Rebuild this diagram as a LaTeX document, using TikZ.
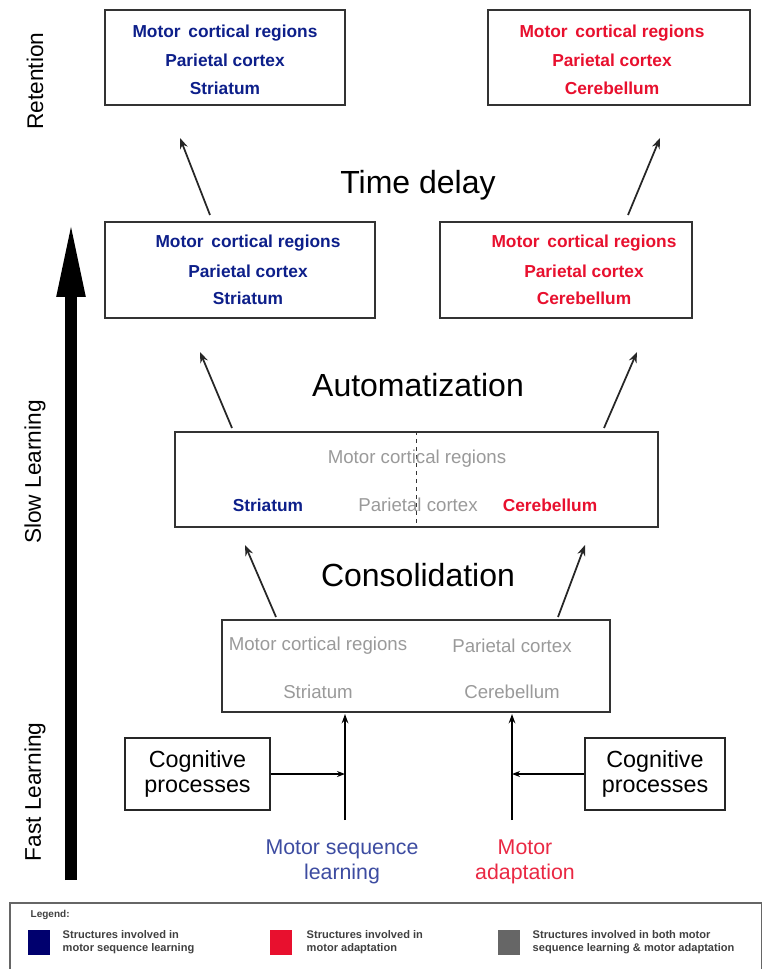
\documentclass[tikz,border=0pt]{standalone}
\usepackage{fontspec}
\setmainfont{Liberation Sans}
\usetikzlibrary{arrows.meta}
\definecolor{seqblue}{HTML}{0D1F8A}
\definecolor{adred}{HTML}{E8102E}
\definecolor{lgray}{HTML}{9A9A9A}
\definecolor{navy}{HTML}{00006E}
\tikzset{
  regionb/.style={draw=black!80, line width=1.2pt, inner sep=0pt},
  btxt/.style={font=\fontsize{13}{15}\selectfont\bfseries, align=center},
  gtxt/.style={font=\fontsize{14}{16}\selectfont, text=lgray},
  stage/.style={font=\fontsize{24}{28}\selectfont},
  side/.style={font=\fontsize{17}{20}\selectfont, rotate=90},
  arr/.style={-{Stealth[length=8pt,width=6pt]}, line width=1.3pt, black!85},
  cog/.style={draw=black!85, line width=1.2pt, font=\fontsize{17.5}{19}\selectfont, align=center, inner sep=0pt},
  lgtxt/.style={font=\fontsize{8.3}{9.5}\selectfont\bfseries, align=left, anchor=west, text=black!75},
}
\begin{document}
\begin{tikzpicture}[x=0.75pt,y=-0.75pt]
\useasboundingbox (0,0) rectangle (762,969);
\fill[white] (0,0) rectangle (762,969);

% side labels
\node[side] (ret) at (35,81) {Retention};
\node[side] (slow) at (35,472) {Slow Learning};
\node[side] (fast) at (35,792) {Fast Learning};
\coordinate (bigS) at (71,880);
\coordinate (bigE) at (71,217);
\draw[line width=9.5pt, -{Triangle[length=60pt,width=19pt]}] (bigS) -- (bigE);

% top boxes
\node[regionb, minimum width=240*0.75pt, minimum height=95*0.75pt] (tl) at (225,57.5) {};
\node[btxt, text=seqblue] at (225,33) {Motor\, cortical regions};
\node[btxt, text=seqblue] at (225,60) {Parietal cortex};
\node[btxt, text=seqblue] at (225,88) {Striatum};

\node[regionb, minimum width=262*0.75pt, minimum height=95*0.75pt] (tr) at (619,57.5) {};
\node[btxt, text=adred] at (612,33) {Motor\, cortical regions};
\node[btxt, text=adred] at (612,60) {Parietal cortex};
\node[btxt, text=adred] at (612,88) {Cerebellum};

\node[stage] (td) at (418,185) {Time delay};

% middle boxes
\node[regionb, minimum width=270*0.75pt, minimum height=96*0.75pt] (ml) at (240,270) {};
\node[btxt, text=seqblue] at (248,243) {Motor\, cortical regions};
\node[btxt, text=seqblue] at (248,271) {Parietal cortex};
\node[btxt, text=seqblue] at (248,298) {Striatum};

\node[regionb, minimum width=252*0.75pt, minimum height=96*0.75pt] (mr) at (566,270) {};
\node[btxt, text=adred] at (584,243) {Motor\, cortical regions};
\node[btxt, text=adred] at (584,271) {Parietal cortex};
\node[btxt, text=adred] at (584,298) {Cerebellum};

\coordinate (a1s) at (210,215); \coordinate (a1e) at (180,138);
\coordinate (a2s) at (628,215); \coordinate (a2e) at (660,138);
\draw[arr] (a1s) -- (a1e);
\draw[arr] (a2s) -- (a2e);

\node[stage] (auto) at (418,385) {Automatization};

% automatization box
\node[regionb, minimum width=483*0.75pt, minimum height=95*0.75pt] (ab) at (416.5,479.5) {};
\draw[dashed, line width=1.2pt, black!80] (ab.north) -- (ab.south);
\node[gtxt] at (417,459) {Motor cortical regions};
\node[btxt, text=seqblue] at (268,505) {Striatum};
\node[gtxt] at (418,505) {Parietal cortex};
\node[btxt, text=adred] at (550,505) {Cerebellum};

\coordinate (b1s) at (232,428); \coordinate (b1e) at (200,352);
\coordinate (b2s) at (604,428); \coordinate (b2e) at (637,352);
\draw[arr] (b1s) -- (b1e);
\draw[arr] (b2s) -- (b2e);

\node[stage] (cons) at (418,575) {Consolidation};

% consolidation box
\node[regionb, minimum width=388*0.75pt, minimum height=92*0.75pt] (cb) at (416,666) {};
\node[gtxt] at (318,646) {Motor cortical regions};
\node[gtxt] at (512,646) {Parietal cortex};
\node[gtxt] at (318,692) {Striatum};
\node[gtxt] at (512,692) {Cerebellum};

\coordinate (c1s) at (276,617); \coordinate (c1e) at (245,545);
\coordinate (c2s) at (558,617); \coordinate (c2e) at (585,545);
\draw[arr] (c1s) -- (c1e);
\draw[arr] (c2s) -- (c2e);

% bottom inputs
\node[cog, minimum width=145*0.75pt, minimum height=72*0.75pt] (cogl) at (197.5,774) {Cognitive\\processes};
\node[cog, minimum width=140*0.75pt, minimum height=72*0.75pt] (cogr) at (655,774) {Cognitive\\processes};

\node[font=\fontsize{16}{19}\selectfont, text=seqblue!80, align=center] (msl) at (342,862) {Motor sequence\\learning};
\node[font=\fontsize{16}{19}\selectfont, text=adred!90, align=center] (mad) at (525,862) {Motor\\adaptation};

\coordinate (v1s) at (345,820); \coordinate (v1e) at (345,714);
\coordinate (v2s) at (512,820); \coordinate (v2e) at (512,714);
\draw[-{Stealth[length=7pt,width=5pt]}, line width=1.5pt] (v1s) -- (v1e);
\draw[-{Stealth[length=7pt,width=5pt]}, line width=1.5pt] (v2s) -- (v2e);
\draw[-{Stealth[length=6pt,width=4.5pt]}, line width=1.2pt] (cogl.east) -- (cogl.east -| v1s);
\draw[-{Stealth[length=6pt,width=4.5pt]}, line width=1.2pt] (cogr.west) -- (cogr.west -| v2s);

% legend
\node[draw=black!60, line width=1pt, minimum width=752*0.75pt, minimum height=70*0.75pt, inner sep=0pt] (leg) at (386,938) {};
\node[font=\fontsize{7.5}{8.5}\selectfont\bfseries, text=black!75, anchor=west] (legt) at (26,915) {Legend:};
\fill[navy] (28,930) rectangle (50,955);
\node[lgtxt] (l1) at (58,942) {Structures involved in\\motor sequence learning};
\fill[adred] (270,930) rectangle (292,955);
\node[lgtxt] (l2) at (302,942) {Structures involved in\\motor adaptation};
\fill[black!60] (498,930) rectangle (520,955);
\node[lgtxt] (l3) at (528,942) {Structures involved in both motor\\sequence learning \& motor adaptation};
\end{tikzpicture}
\end{document}
